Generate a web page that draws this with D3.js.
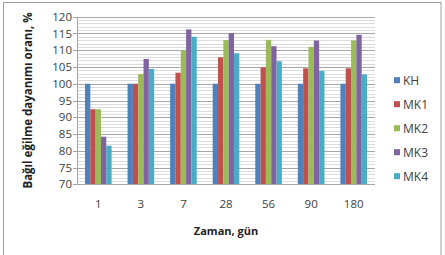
<!DOCTYPE html>
<html><head><meta charset="utf-8">
<script src="https://cdn.jsdelivr.net/npm/d3@7"></script>
<style>body{margin:0;background:#fff}svg{display:block}text{font-family:"Open Sans",sans-serif}</style>
</head><body><svg id="c" width="445" height="255"></svg>
<script>
const categories = ["1","3","7","28","56","90","180"];
const seriesNames = ["KH","MK1","MK2","MK3","MK4"];
const KH  = [100,100,100,100,100,100,100];
const MK1 = [92.4,100,103.3,107.9,104.9,104.6,104.6];
const MK2 = [92.4,102.9,109.9,113.0,113.1,111.0,112.9];
const MK3 = [84.2,107.4,116.2,115.1,111.2,112.9,114.6];
const MK4 = [81.5,104.4,114.0,109.1,106.7,103.8,102.8];
const yTicks = [70,75,80,85,90,95,100,105,110,115,120];
const colors = ["#4F81BD","#C0504D","#9BBB59","#8064A2","#4BACC6"];
const series = [KH,MK1,MK2,MK3,MK4];

const svg = d3.select("#c");
svg.append("rect").attr("x",3.5).attr("y",2.5).attr("width",437.5).attr("height",260)
  .attr("fill","none").attr("stroke","#a0a0a0");

const L=77, R=375, T=16.7, B=184.3;
const x = d3.scaleBand().domain(categories).range([L,R]);
const y = d3.scaleLinear().domain([70,120]).range([B,T]);

const minor = d3.range(71,120).filter(v=>v%5!==0);
svg.append("g").selectAll("line").data(minor).join("line")
  .attr("x1",L).attr("x2",R).attr("y1",d=>Math.round(y(d))+0.5).attr("y2",d=>Math.round(y(d))+0.5)
  .attr("stroke","#dcdcdc").attr("stroke-width",1);
svg.append("g").selectAll("line").data(yTicks).join("line")
  .attr("x1",L-4).attr("x2",R).attr("y1",d=>Math.round(y(d))+0.5).attr("y2",d=>Math.round(y(d))+0.5)
  .attr("stroke","#a6a6a6").attr("stroke-width",1);

const yAxis = d3.axisLeft(y).tickValues(yTicks).tickSize(0).tickPadding(5);
const ga = svg.append("g").attr("transform",`translate(${L},0)`).call(yAxis);
ga.select(".domain").attr("stroke","#a6a6a6");
ga.selectAll("text").attr("font-size",11.5).attr("fill","#404040");

const inner = d3.scaleBand().domain(seriesNames).range([0,x.bandwidth()]).paddingOuter(1.5);
const g = svg.append("g");
series.forEach((s,i)=>{
  g.append("g").selectAll("rect").data(s).join("rect")
    .attr("x",(d,j)=>x(categories[j])+inner(seriesNames[i]))
    .attr("width",inner.bandwidth())
    .attr("y",d=>y(d)).attr("height",d=>B-y(d))
    .attr("fill",colors[i]);
});

const xAxis = d3.axisBottom(x).tickSize(0).tickPadding(16);
const gx = svg.append("g").attr("transform",`translate(0,${B})`).call(xAxis);
gx.select(".domain").remove();
gx.selectAll("text").attr("font-size",11.5).attr("fill","#404040");
svg.append("line").attr("x1",L).attr("x2",R).attr("y1",Math.round(B)+0.5).attr("y2",Math.round(B)+0.5).attr("stroke","#a6a6a6");

svg.append("text").attr("x",(L+R)/2).attr("y",235).attr("text-anchor","middle")
  .attr("font-size",11).attr("font-weight","bold").attr("fill","#222").text("Zaman, gün");
svg.append("text").attr("transform",`translate(32,${(T+B)/2}) rotate(-90)`).attr("text-anchor","middle")
  .attr("font-size",11.5).attr("font-weight","bold").attr("fill","#222").text("Bağıl eğilme dayanımı oranı, %");

const leg = svg.append("g");
seriesNames.forEach((n,i)=>{
  const yy = 80.7 + i*24;
  leg.append("rect").attr("x",394).attr("y",yy-3.5).attr("width",6).attr("height",6).attr("fill",colors[i]);
  leg.append("text").attr("x",403).attr("y",yy+4.5).attr("font-size",12).attr("fill","#404040").text(n);
});
</script></body></html>
